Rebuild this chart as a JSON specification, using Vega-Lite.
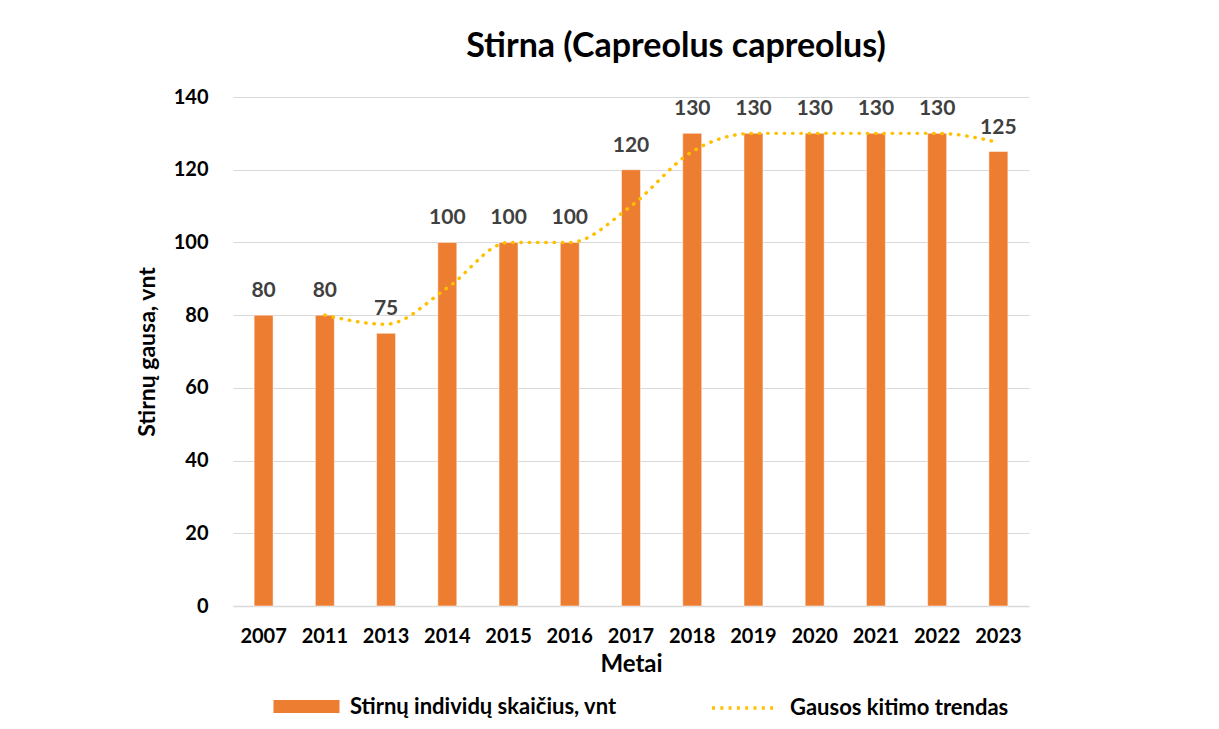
{
  "$schema": "https://vega.github.io/schema/vega-lite/v6.json",
  "width": 796,
  "height": 509,
  "autosize": {"type": "none"},
  "padding": {"left": 233, "top": 97, "right": 190, "bottom": 123},
  "background": "white",
  "title": {
    "text": "Stirna (Capreolus capreolus)",
    "font": "Lato",
    "fontSize": 34,
    "fontWeight": "bold",
    "color": "#000000",
    "anchor": "middle",
    "dx": 45,
    "offset": 23
  },
  "data": {
    "values": [
      {"year": "2007", "count": 80, "trend": null},
      {"year": "2011", "count": 80, "trend": 80},
      {"year": "2013", "count": 75, "trend": 77.5},
      {"year": "2014", "count": 100, "trend": 87.5},
      {"year": "2015", "count": 100, "trend": 100},
      {"year": "2016", "count": 100, "trend": 100},
      {"year": "2017", "count": 120, "trend": 110},
      {"year": "2018", "count": 130, "trend": 125},
      {"year": "2019", "count": 130, "trend": 130},
      {"year": "2020", "count": 130, "trend": 130},
      {"year": "2021", "count": 130, "trend": 130},
      {"year": "2022", "count": 130, "trend": 130},
      {"year": "2023", "count": 125, "trend": 127.5}
    ]
  },
  "encoding": {
    "x": {
      "field": "year",
      "type": "ordinal",
      "sort": null,
      "scale": {"paddingInner": 0.69, "paddingOuter": 0.345},
      "axis": {
        "title": "Metai",
        "labelAngle": 0,
        "ticks": false,
        "domainColor": "#D9D9D9",
        "domainWidth": 1.5,
        "labelFont": "Lato",
        "labelFontSize": 20,
        "labelFontWeight": "bold",
        "labelColor": "#000000",
        "labelPadding": 20,
        "titleFont": "Lato",
        "titleFontSize": 24,
        "titleFontWeight": "bold",
        "titleColor": "#000000",
        "titlePadding": 6
      }
    }
  },
  "layer": [
    {
      "mark": {"type": "bar", "stroke": "white", "strokeWidth": 0.5},
      "encoding": {
        "y": {
          "field": "count",
          "type": "quantitative",
          "scale": {"domain": [0, 140]},
          "axis": {
            "title": "Stirnų gausa, vnt",
            "values": [0, 20, 40, 60, 80, 100, 120, 140],
            "ticks": false,
            "domain": false,
            "gridColor": "#D9D9D9",
            "gridWidth": 1.2,
            "labelFont": "Lato",
            "labelFontSize": 20,
            "labelFontWeight": "bold",
            "labelColor": "#000000",
            "labelPadding": 25,
            "titleFont": "Lato",
            "titleFontSize": 23,
            "titleFontWeight": "bold",
            "titleColor": "#000000",
            "titlePadding": 14
          }
        },
        "fill": {
          "datum": "Stirnų individų skaičius, vnt",
          "scale": {"range": ["#ED7D31"]},
          "legend": {
            "title": null,
            "orient": "none",
            "legendX": 60,
            "legendY": 596,
            "symbolType": "M-2.5,-0.5L2.5,-0.5L2.5,0.5L-2.5,0.5Z",
            "symbolSize": 697,
            "symbolStrokeWidth": 0,
            "labelOffset": 30,
            "labelFont": "Lato",
            "labelFontSize": 22,
            "labelFontWeight": "bold",
            "labelColor": "#000000",
            "labelLimit": 400
          }
        }
      }
    },
    {
      "mark": {
        "type": "line",
        "interpolate": "monotone",
        "strokeWidth": 3.4,
        "strokeDash": [0.5, 7.8],
        "strokeCap": "round"
      },
      "encoding": {
        "y": {"field": "trend", "type": "quantitative"},
        "stroke": {
          "datum": "Gausos kitimo trendas",
          "scale": {"range": ["#FFC000"]},
          "legend": {
            "title": null,
            "orient": "none",
            "legendX": 497,
            "legendY": 596,
            "symbolType": "M-2.5,0L2.5,0",
            "symbolSize": 697,
            "symbolStrokeWidth": 3.4,
            "symbolDash": [3, 5.3],
            "labelOffset": 30,
            "labelFont": "Lato",
            "labelFontSize": 22,
            "labelFontWeight": "bold",
            "labelColor": "#000000",
            "labelLimit": 400
          }
        }
      }
    },
    {
      "mark": {
        "type": "text",
        "baseline": "alphabetic",
        "dy": -18,
        "font": "Lato",
        "fontSize": 21,
        "fontWeight": "bold",
        "color": "#404040"
      },
      "encoding": {
        "y": {"field": "count", "type": "quantitative"},
        "text": {"field": "count", "type": "quantitative"}
      }
    }
  ],
  "config": {
    "view": {"stroke": null}
  }
}
